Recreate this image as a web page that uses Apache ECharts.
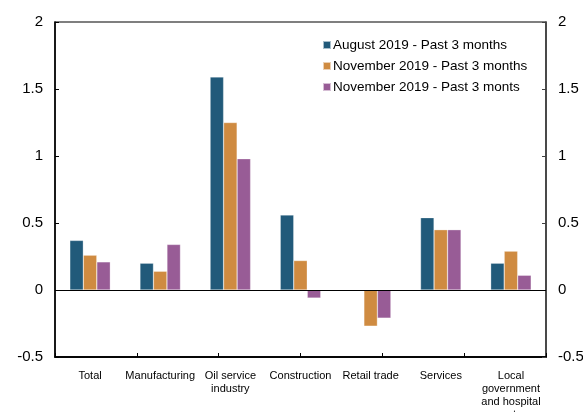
<!DOCTYPE html>
<html>
<head>
<meta charset="utf-8">
<script src="https://cdn.jsdelivr.net/npm/echarts@6/dist/echarts.min.js"></script>
<style>
  html, body { margin: 0; padding: 0; background: #fff; }
  #chart { width: 583px; height: 412px; }
</style>
</head>
<body>
<div id="chart"></div>
<script>
// categories and series
const categories = ['Total', 'Manufacturing', 'Oil service\nindustry', 'Construction',
  'Retail trade', 'Services', 'Local\ngovernment\nand hospital\nsector'];
const seriesNames = ['August 2019 - Past 3 months', 'November 2019 - Past 3 months', 'November 2019 - Past 3 monts'];
const aug2019 = [0.37, 0.20, 1.59, 0.56, 0, 0.54, 0.20];
const nov2019 = [0.26, 0.14, 1.25, 0.22, -0.27, 0.45, 0.29];
const nov2019b = [0.21, 0.34, 0.98, -0.06, -0.21, 0.45, 0.11];
const yTicks = [-0.5, 0, 0.5, 1, 1.5, 2];
// the source's bottom tick marks sit on a 6-slot grid, not on the 7 categories
const tickSlots = ['', '', '', '', '', ''];

const colors = ['#215a7a', '#cf8b41', '#985c96'];
const font = 'Liberation Sans, Arial, sans-serif';

const chart = echarts.init(document.getElementById('chart'));

function yAxisCfg(pos, lineColor) {
  return {
    type: 'value',
    position: pos,
    min: yTicks[0],
    max: yTicks[yTicks.length - 1],
    interval: 0.5,
    axisLine: { show: true, lineStyle: { color: lineColor, width: 1.5 } },
    axisTick: { show: true, inside: true, length: 4, lineStyle: { color: lineColor } },
    axisLabel: { color: '#000', fontSize: 15, fontFamily: font, margin: 12 },
    splitLine: { show: false }
  };
}

const bars = [aug2019, nov2019, nov2019b].map((d, i) => ({
  name: seriesNames[i],
  type: 'bar',
  data: d,
  barWidth: 13.5,
  barGap: '0%',
  itemStyle: { color: colors[i], borderColor: 'rgba(255,255,255,0.6)', borderWidth: 0.5 }
}));
// zero line
bars[0].markLine = {
  silent: true,
  symbol: 'none',
  label: { show: false },
  lineStyle: { color: '#000', type: 'solid', width: 1 },
  data: [{ yAxis: 0 }]
};
// empty series so the tick-mark axis gets drawn
bars.push({
  name: 'ticks',
  type: 'bar',
  xAxisIndex: 1,
  yAxisIndex: 0,
  data: [],
  silent: true
});

const option = {
  animation: false,
  color: colors,
  grid: {
    left: 55, right: 37, top: 22, bottom: 55,
    outerBoundsMode: 'none',
    containLabel: false,
    show: true, borderColor: '#000', borderWidth: 1.2
  },
  legend: {
    orient: 'vertical',
    left: 317,
    top: 33,
    itemWidth: 8,
    itemHeight: 8,
    itemGap: 7,
    icon: 'rect',
    textStyle: { color: '#000', fontSize: 13.5, fontFamily: font, padding: [0, 0, 0, -3] },
    data: seriesNames
  },
  xAxis: [
    {
      type: 'category',
      data: categories,
      position: 'bottom',
      axisLine: { show: true, onZero: false, lineStyle: { color: '#000', width: 1.5 } },
      axisTick: { show: false },
      axisLabel: {
        color: '#000', fontSize: 11, fontFamily: font, interval: 0,
        margin: 12, lineHeight: 13
      }
    },
    {
      type: 'category',
      show: true,
      data: tickSlots,
      position: 'bottom',
      offset: 0,
      boundaryGap: true,
      axisLine: { show: true, onZero: false, lineStyle: { color: '#000', width: 1.5 } },
      axisTick: { show: true, inside: true, length: 4, interval: 0, lineStyle: { color: '#000' } },
      axisLabel: { show: false },
      splitLine: { show: false }
    }
  ],
  yAxis: [yAxisCfg('left', '#000'), yAxisCfg('right', '#404040')],
  series: bars
};

chart.setOption(option);
</script>
</body>
</html>
